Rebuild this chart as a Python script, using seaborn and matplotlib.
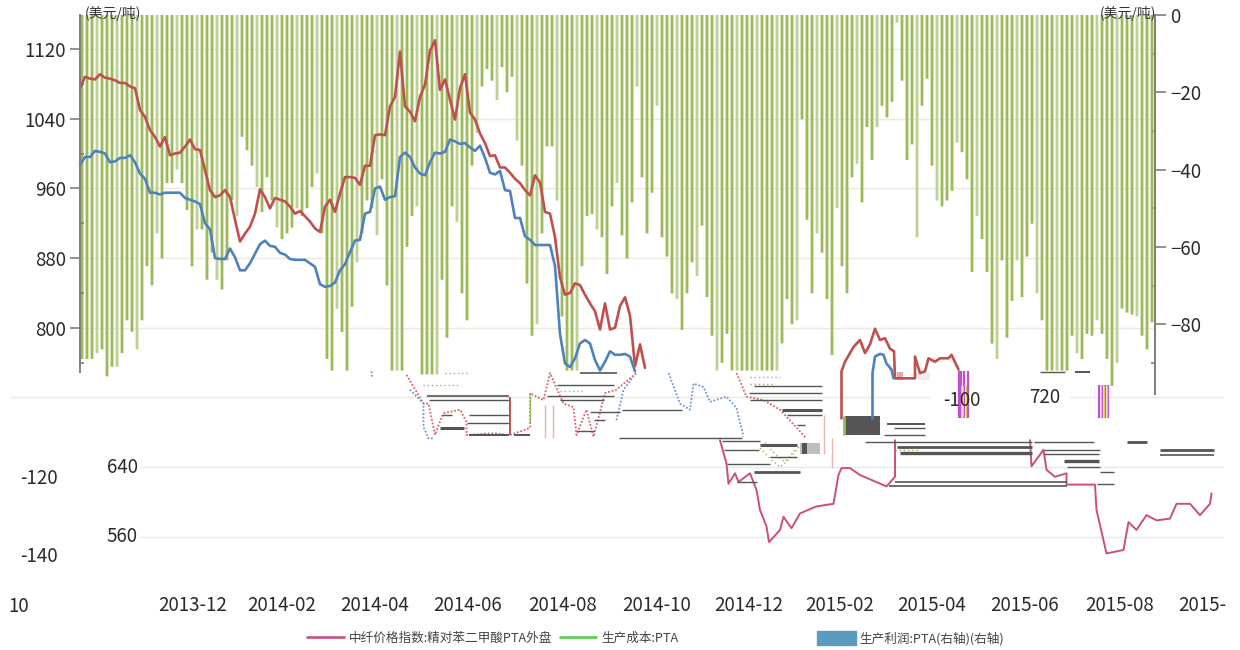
import matplotlib
matplotlib.use("Agg")
import matplotlib.pyplot as plt
import numpy as np
import pandas as pd
import seaborn as sns
from matplotlib.lines import Line2D
from matplotlib.patches import Patch

# values, one sample every ~3 days
profit = [-89,-89,-89,-87.5,-86.5,-93.5,-91,-91,-87.5,-79,-82,-86.5,-79,-65,-70,-56.5,-63,-43.5,-43.5,-40,
          -43.5,-50.5,-65,-55.5,-55.5,-68.5,-61.5,-68.5,-71,-63.5,-48,-52,-31.5,-35,-39,-44.5,-51,-42,-48,-55,
          -58,-56.5,-55,-50,-52,-50,-44.5,-41,-56.5,-89,-92,-76,-82,-92,-75.5,-64,-56.5,-48,-50,-57,
          -42.5,-70,-92,-92,-92,-60,-52,-49.5,-93,-93,-93,-93,-68.5,-83.5,-49.5,-53.5,-72,-79,-39,-30.5,
          -18.5,-14,-17,-22,-13.5,-20,-16,-32.5,-39,-69.5,-83,-80,-56.5,-34,-34,-48,-78,-92,-92,-92,
          -65,-52,-51.5,-55.5,-57.5,-67,-49.5,-43.5,-57,-63,-48.5,-18.5,-42,-56.5,-46,-23.5,-57.5,-62.5,-72,-73.5,
          -81.5,-72,-64,-67.5,-54.5,-73,-83,-92,-90,-82.5,-92,-92,-92,-92,-92,-92,-92,-92,-92,-92,
          -85,-73.5,-80,-79,-27,-53,-72,-56.5,-61.5,-73.5,-88,-50,-65,-72,-42,-38.5,-48.5,-29,-37.5,-29,
          -23.5,-26.5,-22.5,-2,-17,-37.5,-33.5,-57.5,-23.5,-16.5,-39,-48,-49.5,-48,-45.5,-33,-35.5,-42.5,-66.5,-52,
          -58,-66.5,-85,-89,-63.5,-83.5,-74,-63.5,-73,-62.5,-54,-72,-79,-92,-92,-92,-92,-92,-83,-87.5,
          -89,-82.5,-83,-79,-82.5,-89,-96,-90,-76,-77,-77.5,-78,-83,-86.5,-79.5]

price_index = [1075,1088,1086,1085,1091,1087,1086,1084,1081,1081,1077,1075,1050,1042,1027,1019,1008,1019,998,1000,
               1001,1008,1016,1005,1004,981,958,950,952,958,950,924,899,908,916,931,959,950,937,949,
               947,945,939,931,934,928,922,914,910,939,947,933,954,973,973,972,964,986,986,1021,
               1022,1021,1054,1065,1117,1054,1048,1037,1065,1079,1118,1130,1073,1085,1062,1039,1075,1091,1047,1039,
               1023,1012,997,998,984,984,978,971,966,958,952,975,967,933,931,904,858,838,840,851,
               849,838,828,819,798,828,798,800,825,835,814,756,781,754]

cost = [987,996,996,1003,1002,1000,990,991,995,995,998,990,977,971,955,955,953,955,955,955,
        955,949,947,945,942,920,913,880,879,879,891,881,866,866,874,885,896,900,894,893,
        886,884,879,878,878,878,874,870,850,847,848,852,866,873,887,900,901,931,933,960,
        962,947,950,951,996,1001,996,984,977,975,990,1001,1000,1002,1016,1014,1011,1012,1007,1003,
        1009,995,978,976,980,958,957,926,926,905,901,895,895,895,895,871,793,759,755,765,
        782,786,782,763,751,761,773,769,769,770,767,750]

# pieces of the two lines further right
price2_s = [152.3,152.3,153,154,154.7,156,157,158,159,160,161,162,162.8,163,167,167,168,169,169.7,171,172,173.7,174.3,175.7]
price2_v = [696,750,761,771,778,786,771,781,799,786,788,776,773,742,742,767,748,750,765,761,765,765,769,752]
cost2_s = [158.5,158.5,159,160,160.7,161.3,162.3,162.7]
cost2_v = [696,748,767,770,769,759,752,742]

# scrambled band under the top of the chart
low1_s = [128,129.3,129.7,131,131.7,134,135.3,136,137.3,137.8,140,140.7,142.3,144,147.3,150.7,151.7,152.3,154,156,161.3,163,163]
low1_v = [671,644,621,633,623,633,614,591,572,554,568,583,570,587,595,598,631,639,639,631,618,629,671]
low2_s = [190,190.3,192.7,193.3,195,197.3,197.3,203,203.3,205.3,208.7,209.7,211.3,213.3,215.3,218,219.3,222,224,226,226.3]
low2_v = [671,641,660,637,629,633,620,620,591,541,545,577,568,585,579,581,598,598,585,598,610]

frag_pink = [([65.3,68.7,69.7,71,71.7,72.7,76,77.3,77.3,82.7,85.7], [746,713,713,677,688,702,706,692,677,679,677]),
             ([86,90,90,92.7,94,96.7,98.7,99.3,101.3,102.7,105,107.3,111.3], [677,685,725,717,748,713,709,677,706,675,725,729,748]),
             ([131.3,133.3,136.7,140,145.3], [748,721,717,706,673])]
frag_blue = [([58.3,58.4], [750,744]),
             ([66,68.7,68.7,69.7,70.7], [729,713,686,673,673]),
             ([107.3,108.7,110.7], [694,729,744]),
             ([117.7,120,122,122.7,124.7,126,129.3,131.3,132.7], [748,713,706,736,732,715,721,708,675])]
frag_green = [([136,138,140,142,144], [662,650,640,650,665]),
              ([137,139,141,143], [668,655,646,660]),
              ([73,78], [748,748]), ([68.5,76], [734,734]), ([96,101], [727,727]),
              ([134,140], [744,744]), ([134,139], [735,735]), ([163,168], [660,660])]

# (start, end, level, width)
dark_rows = [(69.3,85.7,722,1.2),(69.7,85.7,717,1),(77.7,85.7,700,1),(77.3,85.7,691,1),(72,76.7,685,2.2),(72.3,74.3,700,1),
             (77.7,85.7,677,1.4),(86.7,90,677,1.4),(95.3,106.7,734,1),(93.3,106.7,722,1),(96,104.7,717,1),(100,107.3,748,1.2),
             (102,108,703,1),(102.7,105,694,1),(99.3,102.7,681,1),(108.3,120.3,706,1),(107.7,132.3,674,1),(134.7,148.3,733,1),
             (133.7,148.3,725,1),(134,148.3,717,1),(140.3,148.3,706,2.2),(141.3,148.3,700,1),(143.3,145,688,1),(128.3,136,670,1),
             (136,143.3,665,2.2),(128.7,135.7,660,1),(138,143.3,652,1),(129.3,138,644,1),(134.7,144,635,2),(131.3,135.3,623,1),
             (157,190.3,669,1),(163.3,190.3,663,2),(164,190.3,656,2.4),(163,197.3,623,1.2),(161.7,197.3,618,1.2),(190.7,202.7,669,1),
             (192.7,204,660,1),(192.7,203.7,655,1),(196.7,203.7,647,2.4),(197.3,204,640,1),(203.3,206.7,621,1),(204,206.7,635,1),
             (209.3,213.3,669,2),(216,226.7,660,2),(216,226.7,654,1.2),(161.3,169,690,1.4),(162.7,169,685,1),(160.7,169,677,1),
             (192,197,749,1),(199,202,749,1.4)]

stripe_s = [175.8,176.2,176.8,177.5,203.8,204.4,205,205.6]
stripe_top = [750,750,750,750,734,734,734,734]
stripe_low = [696,696,696,696,696,696,696,696]

month_pos = [22.6,40.4,59,77.6,96.6,115.4,133.8,152,170.4,189,208,224.4]
month_labels = ["2013-12","2014-02","2014-04","2014-06","2014-08","2014-10","2014-12","2015-02","2015-04","2015-06","2015-08","2015-"]

sns.set_theme(style="white")
plt.rcParams['font.family'] = ['Noto Sans CJK SC', 'DejaVu Sans']

fig = plt.figure(figsize=(12.4, 6.5), dpi=100)
rect = [0, 0, 1, 1]
xlim = (-16, 232)
price_lim = (430.2, 1176.2)
profit_lim = (-164.3, 3.88)

# grid goes behind the bars, so it gets its own layer
ax_grid = fig.add_axes(rect)
ax_grid.set_xlim(xlim)
ax_grid.set_ylim(price_lim)
ax_grid.set_axis_off()
ax_grid.hlines([1120,1040,960,880,800], 0, 215, color='#eee9dc', lw=1)
ax_grid.hlines([720,720], [-14,198], [170,228.6], color='#eee9dc', lw=1)
ax_grid.hlines([640,560], 12, 228.6, color='#d8efef', lw=1)

ax_profit = fig.add_axes(rect, sharex=ax_grid)
ax_profit.patch.set_visible(False)
df = pd.DataFrame({"s": np.arange(len(profit)) + 0.4, "profit": profit})
sns.barplot(data=df, x="s", y="profit", native_scale=True, color='#9bbb59', saturation=1,
            width=0.56, errorbar=None, linewidth=0, ax=ax_profit)
for bar in ax_profit.patches:
    bar.set_snap(False)
# every so often a bar comes out paler in the original
for bar in ax_profit.patches[3::4]:
    bar.set_facecolor('#bdd194')
ax_profit.set_xlim(xlim)
ax_profit.set_ylim(profit_lim)

ax_price = ax_profit.twinx()
ax_price.set_ylim(price_lim)
ax_price.patch.set_visible(False)

red = '#c0504d'
blue = '#4f81bd'
sns.lineplot(x=np.arange(len(price_index)), y=price_index, color=red, lw=1.9, ax=ax_price)
sns.lineplot(x=np.arange(len(cost)), y=cost, color=blue, lw=1.9, ax=ax_price)
sns.lineplot(x=price2_s, y=price2_v, color=red, lw=1.9, sort=False, estimator=None, ax=ax_price)
sns.lineplot(x=cost2_s, y=cost2_v, color=blue, lw=1.9, sort=False, estimator=None, ax=ax_price)
sns.lineplot(x=low1_s, y=low1_v, color='#cf4f74', lw=1.4, sort=False, estimator=None, ax=ax_price)
sns.lineplot(x=low2_s, y=low2_v, color='#cf4f74', lw=1.4, sort=False, estimator=None, ax=ax_price)

for xs, ys in frag_pink:
    ax_price.plot(xs, ys, color='#d9606e', lw=1.3, ls=(0, (1, 1)))
for xs, ys in frag_blue:
    ax_price.plot(xs, ys, color='#6d98d0', lw=1.3, ls=(0, (1, 1)))
for xs, ys in frag_green:
    ax_price.plot(xs, ys, color='#9bbb59', lw=1, ls=(0, (1, 2)))
for x0, x1, lev, w in dark_rows:
    ax_price.hlines(lev, x0, x1, color='#555555', lw=w)

ax_price.fill_between([153, 160], 677, 699, color='#555555', lw=0)
ax_price.fill_between([144, 148], 655, 668, color='#bfbfbf', lw=0)
ax_price.fill_between([144.3, 145.3], 655, 668, color='#555555', lw=0)
ax_price.fill_between([163.4, 164.6], 740, 749, color='#e6a5a5', lw=0)
ax_price.fill_between([167.4, 170], 740, 749, color='#eeeeee', lw=0)
ax_price.vlines(stripe_s, stripe_low, stripe_top, color='#c050d0', lw=1.6)
ax_price.vlines([s + 0.3 for s in stripe_s[:3] + stripe_s[4:7]], 696, 734, color='#d8d040', lw=0.8)
ax_price.vlines([93, 94.5, 150.3], [673, 673, 639], [711, 711, 673], color='#eab5b5', lw=1)
ax_price.vlines(86, 677, 721, color='#c0504d', lw=1.4)
ax_price.vlines(90, 692, 725, color='#9bbb59', lw=1)
ax_price.vlines(152.7, 677, 699, color='#9bbb59', lw=2)
ax_price.vlines(148.8, 655, 700, color='#eab5b5', lw=1)

# axes
axis_grey = '#7f7f78'
for a in (ax_profit, ax_price):
    for side in ('top', 'bottom', 'left', 'right'):
        a.spines[side].set_visible(False)

ax_price.yaxis.tick_left()
ax_price.spines['left'].set_visible(True)
ax_price.spines['left'].set_position(('data', 0))
ax_price.spines['left'].set_bounds(749, 1159)
ax_price.spines['left'].set_color(axis_grey)
ax_price.spines['left'].set_linewidth(1.4)
ax_price.set_yticks([1120,1040,960,880,800])
ax_price.set_yticks([1080,1000,920,840,760], minor=True)
ax_price.tick_params(axis='y', which='major', direction='out', length=7, width=1.2, color=axis_grey,
                     labelsize=13.5, labelcolor='#2a2a2a', pad=3, left=True, right=False)
ax_price.tick_params(axis='y', which='minor', direction='in', length=3, width=1.2, color=axis_grey, left=True, right=False)

ax_profit.yaxis.tick_right()
ax_profit.spines['right'].set_visible(True)
ax_profit.spines['right'].set_position(('data', 215))
ax_profit.spines['right'].set_bounds(-98, 0)
ax_profit.spines['right'].set_color(axis_grey)
ax_profit.spines['right'].set_linewidth(1.4)
ax_profit.set_yticks([0,-20,-40,-60,-80])
ax_profit.set_yticks([-10,-30,-50,-70,-90], minor=True)
ax_profit.tick_params(axis='y', which='major', direction='out', length=8, width=1.2, color=axis_grey,
                      labelsize=13.5, labelcolor='#2a2a2a', pad=3, right=True, left=False)
ax_profit.tick_params(axis='y', which='minor', direction='in', length=3, width=1.2, color=axis_grey, right=True, left=False)
ax_profit.set_xlabel("")
ax_profit.set_ylabel("")
ax_price.set_ylabel("")

ax_profit.spines['bottom'].set_position(('data', -150))
ax_profit.set_xticks(month_pos)
ax_profit.set_xticklabels(month_labels)
ax_profit.tick_params(axis='x', length=0, labelsize=13.5, labelcolor='#2a2a2a', pad=0, bottom=True)

# tick labels that ended up displaced in the band
txt = dict(fontsize=13.5, color='#2a2a2a', ha='center', va='center')
ax_price.text(193, 720, "720", **txt)
ax_price.text(8.4, 640, "640", **txt)
ax_price.text(8.4, 560, "560", **txt)
ax_price.text(-12.2, 480, "10", **txt)
ax_price.text(176.4, 716, "-100", zorder=5, **txt)
ax_profit.text(-8.2, -120, "-120", **txt)
ax_profit.text(-8.2, -140, "-140", **txt)
ax_price.text(1, 1161, "(美元/吨)", fontsize=10, color='#333333', va='center')
ax_price.text(204, 1161, "(美元/吨)", fontsize=10, color='#333333', va='center')

leg1 = ax_price.legend(handles=[Line2D([], [], color='#c55a88', lw=2),
                                Line2D([], [], color='#5fce5f', lw=2)],
                       labels=["中纤价格指数:精对苯二甲酸PTA外盘", "生产成本:PTA"],
                       ncol=2, frameon=False, fontsize=9.1, labelcolor='#444444', loc='center left',
                       bbox_to_anchor=(307/1240, 12/650), bbox_transform=fig.transFigure, borderpad=0,
                       borderaxespad=0, handlelength=2.9, handletextpad=0.4, columnspacing=0.6)
ax_price.add_artist(leg1)
ax_price.legend(handles=[Patch(color='#5b9bbd')], labels=["生产利润:PTA(右轴)(右轴)"],
                frameon=False, fontsize=9.1, labelcolor='#444444', loc='center left',
                bbox_to_anchor=(817/1240, 12/650), bbox_transform=fig.transFigure, borderpad=0,
                borderaxespad=0, handlelength=3.1, handleheight=1.4, handletextpad=0.25)

fig.savefig("out.png", dpi=100)
